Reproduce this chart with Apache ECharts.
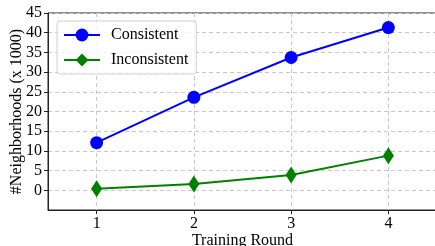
<!DOCTYPE html>
<html>
<head>
<meta charset="utf-8">
<script src="https://cdn.jsdelivr.net/npm/echarts@6/dist/echarts.min.js"></script>
<style>
  html, body { margin: 0; padding: 0; background: #fff; }
  #chart { width: 435px; height: 246px; }
</style>
</head>
<body>
<div id="chart"></div>
<script>
// data
const rounds = [1, 2, 3, 4];
const consistent = [12.1, 23.6, 33.7, 41.3];
const inconsistent = [0.4, 1.6, 3.9, 8.8];
const yTicks = [0, 5, 10, 15, 20, 25, 30, 35, 40, 45];

const font = "'Liberation Serif', 'Times New Roman', serif";
const chart = echarts.init(document.getElementById('chart'));

const option = {
    animation: false,
    grid: {
        left: 48,
        right: -2,
        top: 13,
        bottom: 36,
        outerBoundsMode: 'none',
        containLabel: false,
        show: true,
        borderColor: '#222',
        borderWidth: 1
    },
    legend: {
        orient: 'vertical',
        left: 57,
        top: 21,
        padding: [6, 8, 6, 6],
        itemGap: 9,
        itemWidth: 36,
        itemHeight: 16,
        borderColor: '#d0d0d0',
        borderWidth: 1,
        borderRadius: 3,
        backgroundColor: 'rgba(255,255,255,0.8)',
        textStyle: { fontFamily: font, fontSize: 16, color: '#000', padding: [0, 0, 0, 6] },
        data: ['Consistent', 'Inconsistent']
    },
    xAxis: {
        type: 'value',
        min: 0.5,
        max: 4.5,
        name: 'Training Round',
        nameLocation: 'middle',
        nameGap: 23,
        nameMoveOverlap: false,
        nameTextStyle: { fontFamily: font, fontSize: 16, color: '#000' },
        axisLine: { show: true, onZero: false, lineStyle: { color: '#222', width: 1 } },
        axisTick: { show: true, length: 4, lineStyle: { color: '#222' }, customValues: rounds },
        axisLabel: { fontFamily: font, fontSize: 16, color: '#000', margin: 6, customValues: rounds },
        splitLine: { show: true, lineStyle: { color: '#c8c8c8', type: [4, 3], width: 1 } }
    },
    yAxis: {
        type: 'value',
        min: -5,
        max: 45,
        interval: 5,
        name: '#Neighborhoods (x 1000)',
        nameLocation: 'middle',
        nameGap: 23,
        nameMoveOverlap: false,
        nameTextStyle: { fontFamily: font, fontSize: 16, color: '#000' },
        axisLine: { show: true, onZero: false, lineStyle: { color: '#222', width: 1 } },
        axisTick: { show: true, length: 4, lineStyle: { color: '#222' }, customValues: yTicks },
        axisLabel: { fontFamily: font, fontSize: 16, color: '#000', margin: 6, customValues: yTicks },
        splitLine: { show: true, lineStyle: { color: '#c8c8c8', type: [4, 3], width: 1 } }
    },
    series: [
        {
            name: 'Consistent',
            type: 'line',
            data: rounds.map((r, i) => [r, consistent[i]]),
            symbol: 'circle',
            symbolSize: 13,
            lineStyle: { color: '#0000ff', width: 2 },
            itemStyle: { color: '#0000ff' }
        },
        {
            name: 'Inconsistent',
            type: 'line',
            data: rounds.map((r, i) => [r, inconsistent[i]]),
            symbol: 'diamond',
            symbolSize: [11, 17],
            lineStyle: { color: '#008000', width: 2 },
            itemStyle: { color: '#008000' }
        }
    ]
};

chart.setOption(option);
</script>
</body>
</html>
